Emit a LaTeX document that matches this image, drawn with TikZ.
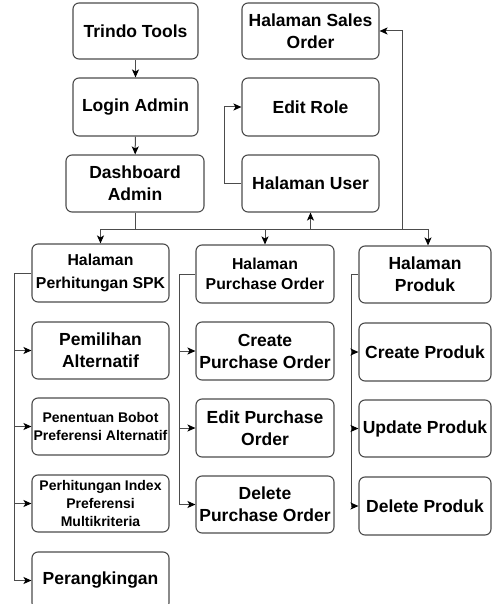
\documentclass[tikz,border=0pt]{standalone}
\usepackage{fontspec}
\setmainfont{Liberation Sans}
\usetikzlibrary{arrows.meta,positioning}
\begin{document}
\begin{tikzpicture}[x=1pt,y=-1pt,
  box/.style={draw=black!70, line width=1.1pt, rounded corners=6pt, fill=white,
    align=center, inner sep=0pt, font=\bfseries\fontsize{17.5}{22}\selectfont},
  headbox/.style={box, font=\bfseries\fontsize{15.8}{23}\selectfont},
  smallbox/.style={box, font=\bfseries\fontsize{14}{18}\selectfont},
  conn/.style={draw=black!70, line width=1pt},
  arr/.style={conn, -{Stealth[length=8pt,width=7pt,inset=2pt,color=black]}}
]
\useasboundingbox (0,0) rectangle (492,604);

% top part
\node[box, minimum width=125pt, minimum height=56pt] (trindo) at (135.5,31) {Trindo Tools};
\node[box, minimum width=125pt, minimum height=58pt] (login) at (135.5,107) {Login Admin};
\node[box, minimum width=138pt, minimum height=57pt] (dash) at (135,183.5) {Dashboard\\Admin};
\node[box, minimum width=137pt, minimum height=56pt] (sales) at (310.5,31) {Halaman Sales\\Order};
\node[box, minimum width=137pt, minimum height=58pt] (role) at (310.5,107) {Edit Role};
\node[box, minimum width=137pt, minimum height=57pt] (user) at (310.5,183.5) {Halaman User};

% SPK column
\node[headbox, minimum width=137pt, minimum height=58pt] (spk) at (100.5,273) {Halaman\\Perhitungan SPK};
\node[box, minimum width=137pt, minimum height=57pt] (pilih) at (100.5,350.5) {Pemilihan\\Alternatif};
\node[smallbox, minimum width=137pt, minimum height=57pt] (bobot) at (100.5,426.5) {Penentuan Bobot\\Preferensi Alternatif};
\node[smallbox, minimum width=137pt, minimum height=57pt] (index) at (100.5,503.5) {Perhitungan Index\\Preferensi\\Multikriteria};
\node[box, minimum width=137pt, minimum height=57pt] (rank) at (100.5,580.5) {Perangkingan};

% purchase order column
\node[headbox, font=\bfseries\fontsize{15.8}{20}\selectfont, minimum width=138pt, minimum height=58pt] (po) at (265,274) {Halaman\\Purchase Order};
\node[box, minimum width=138pt, minimum height=58pt] (cpo) at (265,351) {Create\\Purchase Order};
\node[box, minimum width=138pt, minimum height=58pt] (epo) at (265,428) {Edit Purchase\\Order};
\node[box, minimum width=138pt, minimum height=57pt] (dpo) at (265,504.5) {Delete\\Purchase Order};

% produk column
\node[box, minimum width=132pt, minimum height=57pt] (prod) at (425,274.5) {Halaman\\Produk};
\node[box, minimum width=132pt, minimum height=58pt] (cprod) at (425,352) {Create Produk};
\node[box, minimum width=132pt, minimum height=57pt] (uprod) at (425,428.5) {Update Produk};
\node[box, minimum width=132pt, minimum height=58pt] (dprod) at (425,506) {Delete Produk};

% main flow
\draw[arr] (trindo) -- (login);
\draw[arr] (login) -- (dash);

% distribution bus below the dashboard
\coordinate (busL) at (100.5,229);
\coordinate (busR) at (428,229);
\coordinate (busS) at (402,229);
\draw[conn] (dash.south) -- (dash.south |- busL);
\draw[conn] (busL) -- (busR);
\draw[arr] (busL) -- (spk.north);
\draw[arr] (busL -| po.north) -- (po.north);
\draw[arr] (busL -| user.south) -- (user.south);
\draw[arr] (busR) -- (busR |- prod.north);
\draw[arr] (busS) |- (sales.east);

% user to role
\coordinate (uleft) at (224,183.5);
\draw[arr] (user.west) -- (uleft) |- (role.west);

% SPK branch
\coordinate (s1) at (14,273);
\draw[arr] (spk.west) -- (s1) |- (rank.west);
\foreach \n in {pilih,bobot,index}
  \draw[arr] (s1 |- \n.west) -- (\n.west);

% purchase order branch
\coordinate (s2) at (179,274);
\draw[arr] (po.west) -- (s2) |- (dpo.west);
\foreach \n in {cpo,epo}
  \draw[arr] (s2 |- \n.west) -- (\n.west);

% produk branch
\coordinate (s3) at (351,274.5);
\draw[arr] (prod.west) -- (s3) |- (dprod.west);
\foreach \n in {cprod,uprod}
  \draw[arr] (s3 |- \n.west) -- (\n.west);
\end{tikzpicture}
\end{document}
